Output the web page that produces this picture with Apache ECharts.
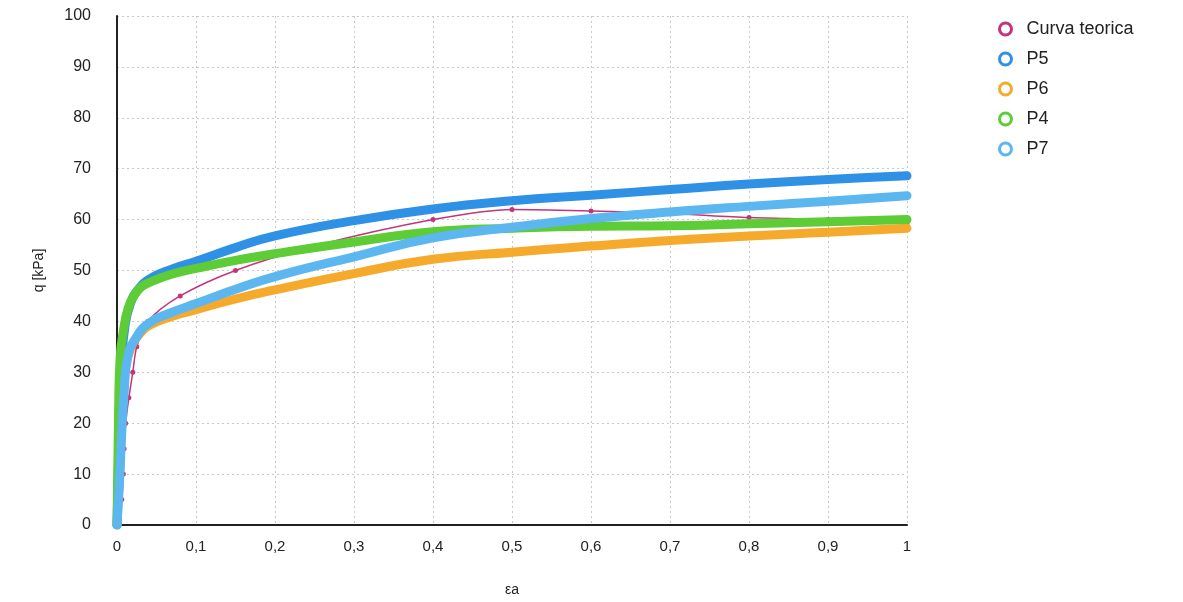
<!DOCTYPE html>
<html>
<head>
<meta charset="utf-8">
<script src="https://cdn.jsdelivr.net/npm/echarts@6/dist/echarts.min.js"></script>
<style>
html,body{margin:0;padding:0;background:#fff;}
#chart{width:1183px;height:602px;}
</style>
</head>
<body>
<div id="chart"></div>
<script>
// Series names (legend order)
const seriesNames = ['Curva teorica', 'P5', 'P6', 'P4', 'P7'];

// Curva teorica
const teoricaX = [0, 0.006, 0.008, 0.009, 0.011, 0.015, 0.02, 0.025, 0.039, 0.08, 0.15, 0.25, 0.4, 0.5, 0.6, 0.7, 0.8, 0.9, 1.0];
const teoricaY = [0, 5, 10, 15, 20, 25, 30, 35, 40, 45, 50, 54.8, 60, 62, 61.7, 61.2, 60.4, 60, 59.2];

// P5
const p5X = [0, 0.003, 0.006, 0.01, 0.017, 0.027, 0.042, 0.07, 0.1, 0.15, 0.2, 0.3, 0.4, 0.5, 0.6, 0.7, 0.8, 0.9, 1.0];
const p5Y = [0, 20, 32, 39, 43.5, 46.3, 48.4, 50.3, 51.8, 54.5, 56.8, 59.8, 62.1, 63.7, 64.8, 65.9, 67.0, 67.9, 68.6];

// P6
const p6X = [0, 0.003, 0.006, 0.01, 0.017, 0.027, 0.042, 0.07, 0.1, 0.15, 0.2, 0.3, 0.4, 0.5, 0.6, 0.7, 0.8, 0.9, 1.0];
const p6Y = [0, 12, 22, 30, 34.5, 37.2, 39.3, 41.0, 42.3, 44.4, 46.2, 49.4, 52.2, 53.6, 54.8, 55.9, 56.8, 57.5, 58.3];

// P4
const p4X = [0, 0.002, 0.004, 0.008, 0.014, 0.022, 0.031, 0.042, 0.07, 0.1, 0.15, 0.2, 0.3, 0.4, 0.5, 0.6, 0.7, 0.8, 0.9, 1.0];
const p4Y = [0, 22, 33, 38, 42.5, 45.2, 46.8, 47.7, 49.3, 50.4, 52.0, 53.3, 55.6, 57.6, 58.3, 58.7, 58.8, 59.2, 59.6, 60.0];

// P7
const p7X = [0, 0.003, 0.006, 0.009, 0.0135, 0.023, 0.04, 0.07, 0.1, 0.15, 0.2, 0.3, 0.4, 0.5, 0.6, 0.7, 0.8, 0.9, 1.0];
const p7Y = [0, 8, 18, 26, 33, 36.5, 39.6, 41.8, 43.5, 46.3, 48.8, 52.7, 56.4, 58.5, 60.2, 61.5, 62.6, 63.6, 64.7];

const colors = ['#c4347a', '#2e91e6', '#f5aa2c', '#5dcc36', '#5cb7f1'];

function pairs(xs, ys) { return xs.map((x, i) => [x, ys[i]]); }

const chart = echarts.init(document.getElementById('chart'));
const fontFam = '"Liberation Sans", Arial, Helvetica, sans-serif';

const thick = (name, xs, ys, color) => ({
  name: name,
  type: 'line',
  data: pairs(xs, ys),
  showSymbol: false,
  symbol: 'circle',
  smooth: 0.5,
  lineStyle: { width: 9, color: color, cap: 'round', join: 'round' },
  itemStyle: { color: color },
  animation: false
});

chart.setOption({
  animation: false,
  color: colors,
  grid: { left: 117, right: 276, top: 16, bottom: 74, containLabel: false },
  legend: {
    orient: 'vertical',
    left: 993,
    top: 15,
    itemWidth: 12,
    itemHeight: 12,
    itemGap: 12,
    icon: 'circle',
    textStyle: { fontFamily: fontFam, fontSize: 18, color: '#222', padding: [0, 0, 0, 10] },
    data: seriesNames.map((n, i) => ({
      name: n,
      itemStyle: { color: '#fff', borderColor: colors[i], borderWidth: 3 }
    }))
  },
  xAxis: {
    type: 'value',
    min: 0,
    max: 1,
    interval: 0.1,
    name: 'εa',
    nameLocation: 'middle',
    nameGap: 58,
    nameTextStyle: { fontFamily: fontFam, fontSize: 14, color: '#222' },
    axisLine: { show: true, onZero: false, lineStyle: { color: '#222', width: 2 } },
    axisTick: { show: false },
    axisLabel: {
      margin: 14,
      fontFamily: fontFam,
      fontSize: 15,
      color: '#222',
      formatter: v => String(Math.round(v * 10) / 10).replace('.', ',')
    },
    splitLine: { show: true, lineStyle: { color: '#c8c8c8', type: [2, 3], width: 1 } }
  },
  yAxis: {
    type: 'value',
    min: 0,
    max: 100,
    interval: 10,
    name: 'q [kPa]',
    nameLocation: 'middle',
    nameGap: 71,
    nameRotate: 90,
    nameTextStyle: { fontFamily: fontFam, fontSize: 14, color: '#222' },
    axisLine: { show: true, onZero: false, lineStyle: { color: '#222', width: 2 } },
    axisTick: { show: false },
    axisLabel: { margin: 26, fontFamily: fontFam, fontSize: 16, color: '#222' },
    splitLine: { show: true, lineStyle: { color: '#c8c8c8', type: [2, 3], width: 1 } }
  },
  series: [
    {
      name: seriesNames[0],
      type: 'line',
      data: pairs(teoricaX, teoricaY),
      symbol: 'circle',
      symbolSize: 5,
      showSymbol: true,
      smooth: 0.3,
      lineStyle: { width: 1.5, color: colors[0] },
      itemStyle: { color: colors[0] },
      z: 2
    },
    thick(seriesNames[1], p5X, p5Y, colors[1]),
    thick(seriesNames[2], p6X, p6Y, colors[2]),
    thick(seriesNames[3], p4X, p4Y, colors[3]),
    thick(seriesNames[4], p7X, p7Y, colors[4])
  ]
});
</script>
</body>
</html>
